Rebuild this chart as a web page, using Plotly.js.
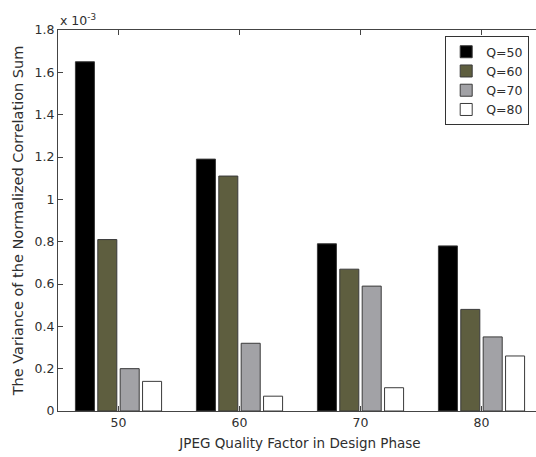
<!DOCTYPE html>
<html>
<head>
<meta charset="utf-8">
<script src="https://cdn.plot.ly/plotly-3.0.1.min.js"></script>
<style>
html,body{margin:0;padding:0;overflow:hidden;background:#fff;}
#chart{width:542px;height:457px;}
</style>
</head>
<body>
<div id="chart"></div>
<script>
// Categories: JPEG quality factor in design phase
const categories = ['50', '60', '70', '80'];
// Series values (units of 1e-3)
const q50 = [1.65, 1.19, 0.79, 0.78];
const q60 = [0.81, 1.11, 0.67, 0.48];
const q70 = [0.20, 0.32, 0.59, 0.35];
const q80 = [0.14, 0.07, 0.11, 0.26];
const seriesNames = ['Q=50', 'Q=60', 'Q=70', 'Q=80'];
const seriesColors = ['#000000', '#5e5e3f', '#a2a2a6', '#ffffff'];
const yTicks = [0, 0.2, 0.4, 0.6, 0.8, 1, 1.2, 1.4, 1.6, 1.8];

const seriesData = [q50, q60, q70, q80];
const traces = seriesData.map((vals, i) => ({
  type: 'bar',
  x: categories,
  y: vals,
  name: seriesNames[i],
  marker: {color: seriesColors[i], line: {color: '#3a3a3a', width: 1}},
  hoverinfo: 'x+y'
}));

const fontFam = 'DejaVu Sans, Verdana, sans-serif';
const txtColor = '#2e2e2e';
const layout = {
  width: 542,
  height: 457,
  margin: {l: 58, r: 0, t: 30, b: 46},
  paper_bgcolor: '#ffffff',
  plot_bgcolor: '#ffffff',
  barmode: 'group',
  bargap: 0.26,
  bargroupgap: 0.15,
  font: {family: fontFam, size: 12.5, color: txtColor},
  showlegend: true,
  legend: {
    x: 0.80, xanchor: 'left', y: 0.984, yanchor: 'top',
    bgcolor: '#ffffff', bordercolor: '#333333', borderwidth: 1,
    font: {family: fontFam, size: 12.5, color: txtColor},
    tracegroupgap: 0
  },
  xaxis: {
    type: 'category',
    range: [-0.5, 3.5],
    showline: true, linecolor: '#444444', linewidth: 1,
    mirror: 'ticks',
    ticks: 'inside', ticklen: 5, tickcolor: '#444444',
    showgrid: false, zeroline: false,
    tickfont: {family: fontFam, size: 12.5, color: txtColor},
    title: {text: 'JPEG Quality Factor in Design Phase', font: {family: fontFam, size: 13.5, color: txtColor}, standoff: 9}
  },
  yaxis: {
    range: [0, 1.8],
    tickvals: yTicks,
    showline: true, linecolor: '#444444', linewidth: 1,
    mirror: 'ticks',
    ticks: 'inside', ticklen: 5, tickcolor: '#444444',
    showgrid: false, zeroline: false,
    tickfont: {family: fontFam, size: 12.5, color: txtColor},
    title: {text: 'The Variance of the Normalized Correlation Sum', font: {family: fontFam, size: 14.5, color: txtColor}, standoff: 7}
  },
  annotations: [{
    xref: 'paper', yref: 'paper', x: 0, y: 1, xanchor: 'left', yanchor: 'bottom',
    text: 'x 10<sup>-3</sup>', showarrow: false,
    font: {family: fontFam, size: 12.5, color: txtColor}, yshift: 0
  }]
};

Plotly.newPlot('chart', traces, layout, {displayModeBar: false, staticPlot: true});
</script>
</body>
</html>
